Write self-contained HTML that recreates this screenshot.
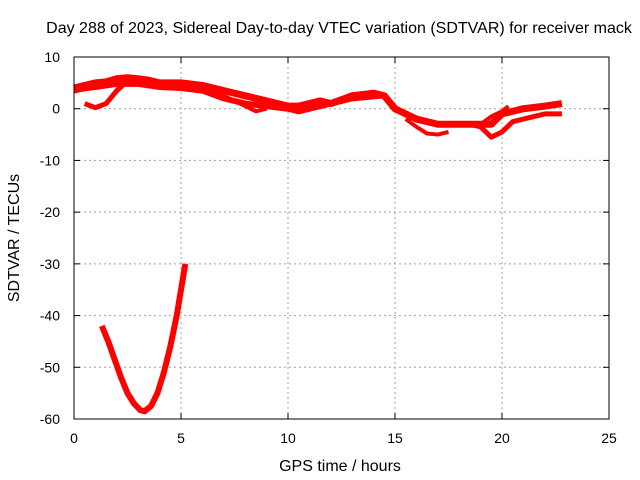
<!DOCTYPE html>
<html><head><meta charset="utf-8"><style>
body{margin:0;background:#fff}
svg{display:block;font-family:"Liberation Sans",sans-serif}
</style></head><body>
<svg id="c" width="640" height="480">
<rect width="640" height="480" fill="#fff"/>
<text x="339" y="33" font-size="16" text-anchor="middle">Day 288 of 2023, Sidereal Day-to-day VTEC variation (SDTVAR) for receiver mack</text>
<g id="grid"></g><g id="series"></g><g id="axes"></g>
<text x="340" y="471" font-size="16" text-anchor="middle">GPS time / hours</text>
<text transform="translate(19,238) rotate(-90)" font-size="16" text-anchor="middle">SDTVAR / TECUs</text>
</svg>
<script>
const xTicks=[0,5,10,15,20,25];
const yTicks=[10,0,-10,-20,-30,-40,-50,-60];
const mainH=[0,0.5,1,1.5,2,2.5,3,3.5,4,5,6,7,8,9,10,10.5,11,11.5,12,13,14,14.5,15,16,17,18,19,19.5,20,21,22,22.8];
const mainV=[4,4.5,5,5.2,5.8,6,5.8,5.5,5,5,4.5,3.5,2.5,1.5,0.5,0.5,1,1.5,1,2.5,3,2.5,0,-2,-3,-3,-3,-3,-1,0,0.5,1];
const lowH=[0,0.3,0.6,1,1.5,2,2.5,3,3.5,4,5,6,7,8,9,10,10.5,11,12,13,14.3];
const lowV=[3.5,3.8,4,4.2,4.5,4.8,4.8,4.8,4.5,4.2,4,3.5,2,1,0.5,0,-0.5,0,1,2,2.5];
const br1H=[0.5,1,1.5,2,2.4,3];
const br1V=[1,0.2,1,3.5,5,5.5];
const br2H=[6,7,7.5,8,8.5,9];
const br2V=[4,2.5,1.5,0.5,-0.5,0];
const br3H=[15.5,16,16.5,17,17.5];
const br3V=[-2,-3.5,-4.8,-5,-4.5];
const br4H=[18.5,19,19.5,20,20.5,21,22,22.8];
const br4V=[-3,-3.5,-5.5,-4.5,-2.5,-2,-1,-1];
const br5H=[19,19.5,20,20.3];
const br5V=[-3,-1.5,-0.5,0.5];
const dipH=[1.3,1.6,1.9,2.2,2.5,2.8,3.1,3.3,3.6,3.9,4.2,4.5,4.8,5.0,5.2];
const dipV=[-42,-45,-48.5,-52,-55,-57,-58.3,-58.5,-57.5,-55,-51,-46,-40,-35,-30];
const L=74,R=609,T=57,B=419;
const X=h=>L+h*(R-L)/25;
const Y=v=>T+(10-v)*(B-T)/70;
const NS="http://www.w3.org/2000/svg";
function mk(tag,attrs,parent,txt){const e=document.createElementNS(NS,tag);for(const k in attrs)e.setAttribute(k,attrs[k]);if(txt!==undefined)e.textContent=txt;parent.appendChild(e);return e;}
const grid=document.getElementById('grid'),axes=document.getElementById('axes'),ser=document.getElementById('series');
xTicks.forEach(t=>{
 if(t>0&&t<25){const g=mk('line',{x1:X(t),x2:X(t),y1:T,y2:B,stroke:'#a0a0a0','stroke-dasharray':'2,3'},grid);
 
 }
 mk('line',{x1:X(t),x2:X(t),y1:B,y2:B-6,stroke:'#000'},axes);
 mk('line',{x1:X(t),x2:X(t),y1:T,y2:T+6,stroke:'#000'},axes);
 const tx=mk('text',{x:X(t),y:B+24,'font-size':14,'text-anchor':'middle'},axes,String(t));
 
 
});
yTicks.forEach(t=>{
 if(t<10&&t>-60){const g=mk('line',{x1:L,x2:R,y1:Y(t),y2:Y(t),stroke:'#a0a0a0','stroke-dasharray':'2,3'},grid);
 
 }
 mk('line',{x1:L,x2:L+6,y1:Y(t),y2:Y(t),stroke:'#000'},axes);
 mk('line',{x1:R,x2:R-6,y1:Y(t),y2:Y(t),stroke:'#000'},axes);
 const tx=mk('text',{x:L-14,y:Y(t)+5,'font-size':14,'text-anchor':'end'},axes,String(t));
 
 
});
const fr=mk('rect',{x:L,y:T,width:R-L,height:B-T,fill:'none',stroke:'#000'},axes);


function line(hs,vs,w,name){
 const p=mk('polyline',{points:hs.map((h,i)=>X(h)+','+Y(vs[i])).join(' '),fill:'none',stroke:'#ff0000','stroke-width':w,'stroke-linejoin':'round','stroke-linecap':'butt'},ser);
 
 
}
line(mainH,mainV,7,'sdtvar-series-main');
line(lowH,lowV,6,'sdtvar-series-lower');
line(br1H,br1V,5,'sdtvar-series-branch-1');
line(br2H,br2V,4,'sdtvar-series-branch-2');
line(br3H,br3V,4,'sdtvar-series-branch-3');
line(br4H,br4V,5,'sdtvar-series-branch-4');
line(br5H,br5V,4,'sdtvar-series-branch-5');
line(dipH,dipV,6,'sdtvar-series-dip');
</script>
</body></html>
